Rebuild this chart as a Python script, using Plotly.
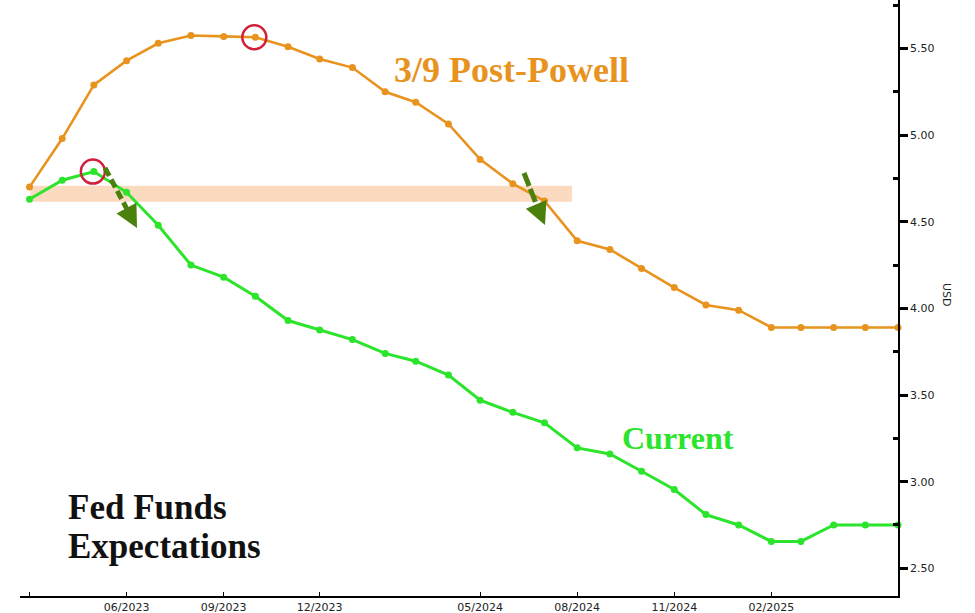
import pandas as pd
import plotly.graph_objects as go

# monthly expectation dates (03/2023 .. 06/2025)
dates = pd.date_range("2023-03-01", "2025-06-01", freq="MS")

post_powell = [4.70, 4.98, 5.29, 5.43, 5.53, 5.575, 5.57, 5.565, 5.51, 5.44,
               5.39, 5.25, 5.19, 5.065, 4.86, 4.72, 4.62, 4.39, 4.34, 4.23,
               4.12, 4.02, 3.99, 3.89, 3.89, 3.89, 3.89, 3.89]
current = [4.63, 4.74, 4.79, 4.67, 4.48, 4.25, 4.18, 4.07, 3.93, 3.875,
           3.82, 3.74, 3.695, 3.615, 3.47, 3.40, 3.34, 3.195, 3.16, 3.06,
           2.955, 2.81, 2.75, 2.655, 2.655, 2.75, 2.75, 2.75]

x_tickvals = ["2023-03-01", "2023-06-01", "2023-09-01", "2023-12-01",
              "2024-05-01", "2024-08-01", "2024-11-01", "2025-02-01"]
x_ticktext = ["", "06/2023", "09/2023", "12/2023",
              "05/2024", "08/2024", "11/2024", "02/2025"]
y_tickvals = [2.5, 3.0, 3.5, 4.0, 4.5, 5.0, 5.5]
y_ticktext = ["2.50", "3.00", "3.50", "4.00", "4.50", "5.00", "5.50"]

ORANGE = "#E8931E"
GREEN = "#2BE42B"
DKGREEN = "#4A800C"
RED = "#D2203A"

fig = go.Figure()
fig.add_trace(go.Scatter(x=dates, y=post_powell, mode="lines+markers",
                         line=dict(color=ORANGE, width=2.6),
                         marker=dict(color=ORANGE, size=7),
                         cliponaxis=False, showlegend=False))
fig.add_trace(go.Scatter(x=dates, y=current, mode="lines+markers",
                         line=dict(color=GREEN, width=3),
                         marker=dict(color=GREEN, size=7),
                         cliponaxis=False, showlegend=False))

# peach highlight band
fig.add_shape(type="rect", xref="x", yref="y", x0="2023-03-02", x1="2024-07-27",
              y0=4.616, y1=4.708, fillcolor="#FBDAC0", line=dict(width=0),
              layer="below")

# red circles
for d, v in [(dates[2], current[2]), (dates[7], post_powell[7])]:
    fig.add_shape(type="circle", xref="x", yref="y", xsizemode="pixel",
                  ysizemode="pixel", xanchor=d, yanchor=v,
                  x0=-13, x1=11, y0=-12, y1=12,
                  line=dict(color=RED, width=2.5))

W, H = 975, 613
L, R, T, B = 20, 77, 0, 17
pw, ph = W - L - R, H - T - B


def px(x):
    return (x - L) / pw


def py(y):
    return 1 - (y - T) / ph


# dashed green arrows
for (x0, y0, x1, y1, xt, yt, dash) in [(105, 168, 128, 211, 137, 228, "9px,4px"),
                                        (524, 173, 539, 211, 545, 225, "14px,3px")]:
    fig.add_shape(type="line", xref="paper", yref="paper",
                  x0=px(x0), y0=py(y0), x1=px(x1), y1=py(y1),
                  line=dict(color=DKGREEN, width=5, dash=dash))
    fig.add_annotation(xref="paper", yref="paper", x=px(xt), y=py(yt),
                       ax=(x1 - xt) * 1.0, ay=(y1 - yt) * 1.0, axref="pixel",
                       ayref="pixel", showarrow=True, arrowhead=2,
                       arrowsize=0.9, arrowwidth=5, arrowcolor=DKGREEN, text="")

serif = "Liberation Serif"


def label(text, x, y, size, color, xanchor="center"):
    fig.add_annotation(xref="paper", yref="paper", x=px(x), y=py(y),
                       xanchor=xanchor, yanchor="middle",
                       text=text, showarrow=False,
                       font=dict(family=serif, size=size, color=color))


label("<b>3/9 Post-Powell</b>", 511, 70, 36, ORANGE)
label("<b>Current</b>", 678, 438, 32, GREEN)
label("<b>Fed Funds</b>", 66, 507, 35, "#111111", xanchor="left")
label("<b>Expectations</b>", 66, 546, 35, "#111111", xanchor="left")

fig.add_annotation(xref="paper", yref="paper", x=px(946), y=py(295),
                   xanchor="center", yanchor="middle",
                   text="USD", textangle=90, showarrow=False,
                   font=dict(family="DejaVu Sans", size=11, color="#222222"))

fig.update_layout(
    width=W, height=H,
    margin=dict(l=L, r=R, t=T, b=B),
    paper_bgcolor="white", plot_bgcolor="white",
    xaxis=dict(range=["2023-02-20", "2025-06-01"], tickvals=x_tickvals,
               ticktext=x_ticktext, ticks="inside", ticklen=4,
               tickcolor="black", showline=True, linecolor="black",
               linewidth=1.5, showgrid=False, zeroline=False,
               automargin=False,
               tickfont=dict(family="DejaVu Sans", size=11, color="#222222")),
    yaxis=dict(range=[2.34, 5.78], side="right", tickvals=y_tickvals,
               ticktext=y_ticktext, ticks="outside", ticklen=8, tickwidth=2.5,
               tickcolor="black", showline=True, linecolor="black",
               linewidth=1.5, showgrid=False, zeroline=False,
               automargin=False,
               minor=dict(tickvals=[2.75, 3.25, 3.75, 4.25, 4.75, 5.25, 5.75],
                          ticks="inside", ticklen=5, tickcolor="black"),
               tickfont=dict(family="DejaVu Sans", size=11, color="#222222")),
)

fig.write_html("out.html", config={"displayModeBar": False},
               post_script="document.body.style.margin='0';"
                           "document.body.style.overflow='hidden';")
